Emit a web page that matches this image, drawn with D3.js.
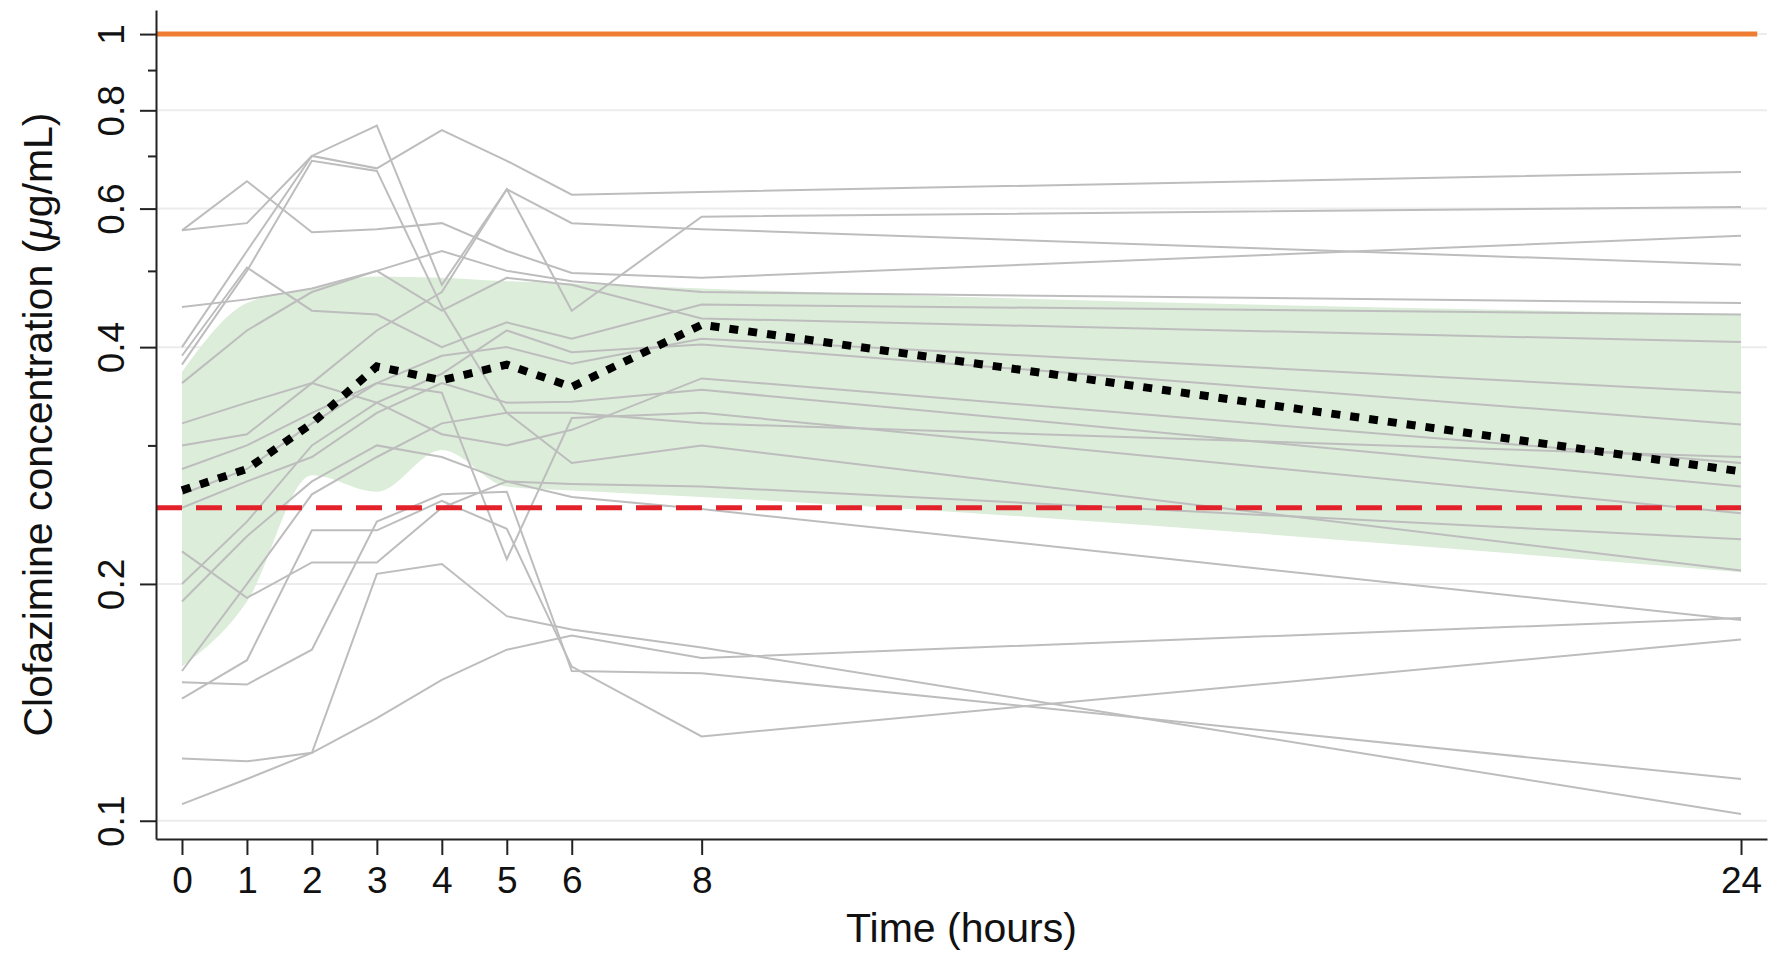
<!DOCTYPE html>
<html>
<head>
<meta charset="utf-8">
<title>Clofazimine concentration</title>
<script src="https://cdn.jsdelivr.net/npm/d3@7"></script>
<style>
    body { margin: 0; background: #fff; }
    #chart svg { display: block; }
    text { font-family: "Liberation Sans", Arial, Helvetica, sans-serif; fill: #111; }
</style>
</head>
<body>
<div id="chart"></div>
<script>
// Sampling times (hours)
const times = [0, 1, 2, 3, 4, 5, 6, 8, 24];

// Individual patient profiles (µg/mL), one row per patient, same order as `times`
const patientProfiles = [
    [0.563, 0.575, 0.700, 0.675, 0.755, 0.690, 0.625, 0.630, 0.668],
    [0.400, 0.530, 0.700, 0.765, 0.480, 0.635, 0.575, 0.565, 0.509],
    [0.300, 0.310, 0.360, 0.420, 0.470, 0.635, 0.445, 0.586, 0.603],
    [0.563, 0.650, 0.560, 0.565, 0.575, 0.530, 0.497, 0.490, 0.554],
    [0.450, 0.460, 0.475, 0.500, 0.530, 0.500, 0.485, 0.470, 0.455],
    [0.390, 0.505, 0.445, 0.440, 0.400, 0.430, 0.410, 0.453, 0.440],
    [0.360, 0.420, 0.470, 0.500, 0.445, 0.490, 0.480, 0.435, 0.406],
    [0.380, 0.500, 0.690, 0.670, 0.450, 0.330, 0.285, 0.300, 0.208],
    [0.280, 0.300, 0.330, 0.360, 0.350, 0.215, 0.325, 0.330, 0.246],
    [0.120, 0.119, 0.122, 0.206, 0.212, 0.182, 0.175, 0.166, 0.102],
    [0.105, 0.113, 0.122, 0.135, 0.151, 0.165, 0.172, 0.161, 0.181],
    [0.143, 0.160, 0.234, 0.234, 0.255, 0.235, 0.157, 0.128, 0.170],
    [0.150, 0.149, 0.165, 0.240, 0.260, 0.262, 0.155, 0.154, 0.113],
    [0.220, 0.192, 0.213, 0.213, 0.250, 0.270, 0.268, 0.266, 0.228],
    [0.155, 0.200, 0.260, 0.290, 0.320, 0.330, 0.330, 0.320, 0.290],
    [0.250, 0.270, 0.290, 0.330, 0.360, 0.340, 0.341, 0.353, 0.266],
    [0.260, 0.280, 0.320, 0.360, 0.390, 0.400, 0.381, 0.410, 0.350],
    [0.320, 0.340, 0.360, 0.340, 0.370, 0.420, 0.394, 0.403, 0.319],
    [0.190, 0.230, 0.270, 0.300, 0.290, 0.270, 0.258, 0.249, 0.180],
    [0.200, 0.240, 0.300, 0.340, 0.310, 0.300, 0.314, 0.365, 0.285]
];

// Median profile (dotted) and shaded interval
const medianConc = [0.263, 0.280, 0.320, 0.378, 0.363, 0.380, 0.356, 0.427, 0.278];
const bandUpper = [0.372, 0.455, 0.475, 0.492, 0.490, 0.485, 0.482, 0.475, 0.440];
const bandLower = [0.157, 0.190, 0.275, 0.262, 0.296, 0.266, 0.263, 0.258, 0.207];

// Reference levels (µg/mL)
const micLevel = 0.25;
const upperLevel = 1.0;

// Axis ticks
const xTickValues = [0, 1, 2, 3, 4, 5, 6, 8, 24];
const yTickValues = [0.1, 0.2, 0.4, 0.6, 0.8, 1];
const yMinorTicks = [0.3, 0.5, 0.7, 0.9];

document.addEventListener('DOMContentLoaded', () => {

    const width = 1773;
    const height = 953;
    const plot = { left: 156, right: 1767, top: 10, bottom: 839 };

    const svg = d3.select('#chart').append('svg')
        .attr('width', width)
        .attr('height', height);

    // Scales
    const x = d3.scaleLinear()
        .domain([-0.4, 24.4])
        .range([plot.left, plot.right]);

    const y = d3.scaleLog()
        .domain([0.0948, 1.073])
        .range([plot.bottom, plot.top]);

    // Light grid lines on labelled ticks
    svg.append('g')
        .selectAll('line')
        .data(yTickValues)
        .enter().append('line')
        .attr('x1', plot.left + 2)
        .attr('x2', plot.right)
        .attr('y1', d => y(d))
        .attr('y2', d => y(d))
        .attr('stroke', '#ececec')
        .attr('stroke-width', 2);

    // Shaded band
    const band = d3.area()
        .x((d, i) => x(times[i]))
        .y0((d, i) => y(bandLower[i]))
        .y1((d, i) => y(bandUpper[i]))
        .curve(d3.curveMonotoneX);

    svg.append('path')
        .datum(times)
        .attr('d', band)
        .attr('fill', '#dcedda');

    // Individual profiles
    const line = d3.line()
        .x((d, i) => x(times[i]))
        .y(d => y(d));

    svg.append('g')
        .selectAll('path')
        .data(patientProfiles)
        .enter().append('path')
        .attr('d', line)
        .attr('fill', 'none')
        .attr('stroke', '#bdbdbd')
        .attr('stroke-width', 2);

    // MIC line (red dashed)
    svg.append('line')
        .attr('x1', plot.left)
        .attr('x2', x(24))
        .attr('y1', y(micLevel))
        .attr('y2', y(micLevel))
        .attr('stroke', '#e3212a')
        .attr('stroke-width', 5)
        .attr('stroke-dasharray', '26,14');

    // Median (black dotted)
    svg.append('path')
        .datum(medianConc)
        .attr('d', line)
        .attr('fill', 'none')
        .attr('stroke', '#000')
        .attr('stroke-width', 8)
        .attr('stroke-dasharray', '9,10');

    // Upper reference (orange)
    svg.append('line')
        .attr('x1', plot.left)
        .attr('x2', x(24.25))
        .attr('y1', y(upperLevel))
        .attr('y2', y(upperLevel))
        .attr('stroke', '#ee7d31')
        .attr('stroke-width', 5);

    // X axis
    const xAxis = svg.append('g')
        .attr('transform', `translate(0,${plot.bottom})`)
        .call(d3.axisBottom(x)
            .tickValues(xTickValues)
            .tickSize(16)
            .tickSizeOuter(0)
            .tickFormat(d3.format('d')));

    xAxis.selectAll('text')
        .attr('y', 28)
        .attr('font-size', 37)
        .attr('fill', '#111');

    // Y axis (labels rotated like the original)
    const yAxis = svg.append('g')
        .attr('transform', `translate(${plot.left},0)`)
        .call(d3.axisLeft(y)
            .tickValues(yTickValues)
            .tickSize(16)
            .tickSizeOuter(0)
            .tickFormat(d3.format('~g')));

    yAxis.selectAll('text')
        .attr('x', null)
        .attr('dy', null)
        .attr('text-anchor', 'middle')
        .attr('transform', 'translate(-32,0) rotate(-90)')
        .attr('font-size', 37)
        .attr('fill', '#111');

    // Minor ticks
    const yMinor = svg.append('g')
        .attr('transform', `translate(${plot.left},0)`)
        .call(d3.axisLeft(y)
            .tickValues(yMinorTicks)
            .tickSize(8)
            .tickFormat(''));
    yMinor.select('.domain').remove();

    svg.selectAll('.domain, .tick line')
        .attr('stroke', '#222')
        .attr('stroke-width', 2);

    // Axis titles
    svg.append('text')
        .attr('x', (plot.left + plot.right) / 2)
        .attr('y', 942)
        .attr('text-anchor', 'middle')
        .attr('font-size', 41)
        .text('Time (hours)');

    const yTitle = svg.append('text')
        .attr('transform', `translate(52,${(plot.top + plot.bottom) / 2}) rotate(-90)`)
        .attr('text-anchor', 'middle')
        .attr('font-size', 41);

    yTitle.append('tspan').text('Clofazimine concentration (');
    yTitle.append('tspan').attr('font-style', 'italic').text('\u03bc');
    yTitle.append('tspan').text('g/mL)');
});
</script>
</body>
</html>
